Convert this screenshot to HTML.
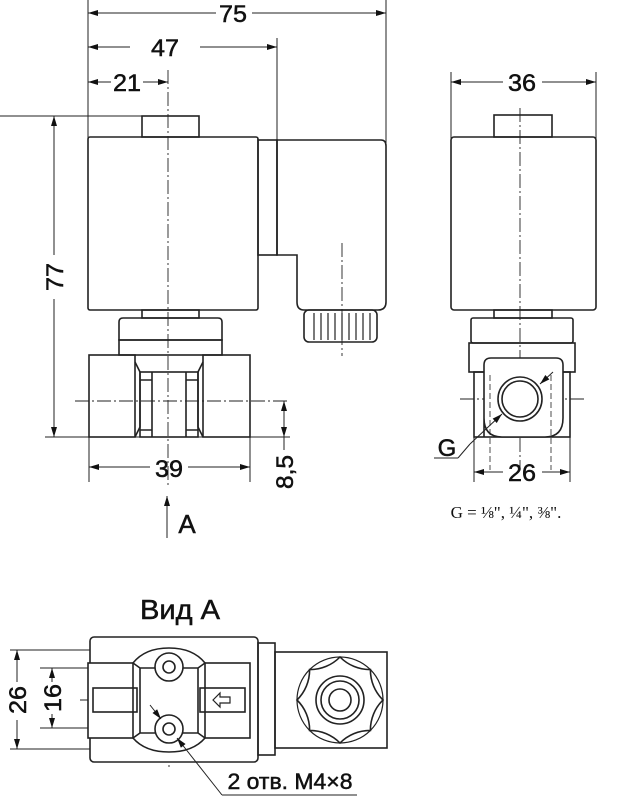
<!DOCTYPE html>
<html><head><meta charset="utf-8"><style>
html,body{margin:0;padding:0;background:#fff}
svg{display:block}
text{font-family:"Liberation Sans",sans-serif;fill:#111;stroke:#111;stroke-width:0.5}
</style></head><body>
<svg width="619" height="800" viewBox="0 0 619 800" xmlns="http://www.w3.org/2000/svg">
<defs>
<marker id="a" viewBox="0 0 10 6" refX="10" refY="3" markerWidth="11" markerHeight="6" orient="auto-start-reverse" markerUnits="userSpaceOnUse"><path d="M0,0 L10,3 L0,6z" fill="#111"/></marker>
</defs>
<g fill="none" stroke="#222" stroke-width="1">
<line x1="88" y1="0" x2="88" y2="138"/>
<line x1="386" y1="0" x2="386" y2="143"/>
<line x1="277" y1="38" x2="277" y2="140"/>
<line x1="0" y1="116" x2="142" y2="116"/>
<line x1="45" y1="437" x2="290" y2="437"/>
<line x1="89" y1="437" x2="89" y2="482"/>
<line x1="250" y1="437" x2="250" y2="482"/>
<line x1="88" y1="13" x2="216" y2="13" marker-start="url(#a)"/>
<line x1="252" y1="13" x2="386" y2="13" marker-end="url(#a)"/>
<line x1="88" y1="47" x2="130" y2="47" marker-start="url(#a)"/>
<line x1="200" y1="47" x2="277" y2="47" marker-end="url(#a)"/>
<line x1="88" y1="82" x2="111" y2="82" marker-start="url(#a)"/>
<line x1="143" y1="82" x2="168" y2="82" marker-end="url(#a)"/>
<line x1="54" y1="116" x2="54" y2="255" marker-start="url(#a)"/>
<line x1="54" y1="299" x2="54" y2="437" marker-end="url(#a)"/>
<line x1="284" y1="401" x2="284" y2="437" marker-start="url(#a)" marker-end="url(#a)"/>
<line x1="284" y1="437" x2="284" y2="450"/>
<line x1="89" y1="467" x2="150" y2="467" marker-start="url(#a)"/>
<line x1="188" y1="467" x2="250" y2="467" marker-end="url(#a)"/>
<line x1="167" y1="538" x2="167" y2="496" marker-end="url(#a)"/>
<g stroke-width="1.6">
<rect x="142" y="116" width="57" height="21"/>
<rect x="88" y="137" width="170" height="173" rx="2"/>
<rect x="258" y="140" width="19" height="115"/>
<path d="M277,140 L381,140 Q386,140 386,146 L386,302 Q386,310 378,310 L304,310 Q297,310 297,302 L297,255 L277,255 Z"/>
<rect x="304" y="310" width="73" height="32" rx="5"/>
<rect x="142" y="310" width="57" height="8"/>
<path d="M119,340 L119,322 Q119,318 123,318 L218,318 Q222,318 222,322 L222,340 Z"/>
<rect x="119" y="340" width="103" height="15"/>
<rect x="89" y="355" width="46" height="82"/>
<rect x="203" y="355" width="47" height="82"/>
<path d="M135,362 L140,372 L140,427 L135,437 M203,362 L198,372 L198,427 L203,437"/>
<rect x="140" y="372" width="58" height="65"/>
<path d="M152,372 V437 M186,372 V437 M140,380 H152 M186,380 H198 M140,430 H152 M186,430 H198"/>
</g>
<path d="M314,313 V340 M321,313 V340 M328,313 V340 M335,313 V340 M342,313 V340 M349,313 V340 M356,313 V340 M363,313 V340 M370,313 V340" stroke-width="1.2"/>
<g stroke-dasharray="14,3,2,3" stroke-width="0.9">
<line x1="168" y1="70" x2="168" y2="485"/>
<line x1="342" y1="243" x2="342" y2="356"/>
<line x1="75" y1="401" x2="290" y2="401"/>
<line x1="520" y1="108" x2="520" y2="470"/>
<line x1="460" y1="399" x2="585" y2="399"/>
<line x1="169" y1="638" x2="169" y2="767"/>
<line x1="80" y1="700" x2="258" y2="700"/>
</g>
<line x1="451" y1="72" x2="451" y2="140"/>
<line x1="596" y1="72" x2="596" y2="140"/>
<line x1="451" y1="82" x2="503" y2="82" marker-start="url(#a)"/>
<line x1="542" y1="82" x2="596" y2="82" marker-end="url(#a)"/>
<line x1="474" y1="437" x2="474" y2="482"/>
<line x1="570" y1="437" x2="570" y2="482"/>
<line x1="474" y1="472" x2="503" y2="472" marker-start="url(#a)"/>
<line x1="542" y1="472" x2="570" y2="472" marker-end="url(#a)"/>
<g stroke-width="1.6">
<rect x="494" y="115" width="58" height="22"/>
<rect x="451" y="137" width="145" height="173" rx="3"/>
<rect x="494" y="310" width="58" height="8"/>
<rect x="471" y="318" width="102" height="25" rx="2"/>
<rect x="469" y="343" width="106" height="29"/>
<rect x="474" y="372" width="96" height="65"/>
<path d="M484,437 L484,365 Q484,358 491,358 L556,358 Q563,358 563,365 L563,418 Q563,437 545,437 L502,437 Q484,437 484,418 Z" fill="#fff"/>
<circle cx="520" cy="399" r="22"/>
<circle cx="520" cy="399" r="18"/>
</g>
<path d="M490,375 V470 M551,375 V470" stroke-dasharray="6,3" stroke-width="0.8"/>
<line x1="553" y1="372" x2="540" y2="384" marker-end="url(#a)"/>
<line x1="470" y1="444" x2="502" y2="414" marker-end="url(#a)"/>
<line x1="434" y1="458" x2="458" y2="458"/>
<line x1="458" y1="458" x2="470" y2="444"/>
<line x1="10" y1="650" x2="165" y2="650"/>
<line x1="10" y1="749" x2="165" y2="749"/>
<line x1="40" y1="668" x2="165" y2="668"/>
<line x1="40" y1="728" x2="165" y2="728"/>
<line x1="17" y1="650" x2="17" y2="682" marker-start="url(#a)"/>
<line x1="17" y1="720" x2="17" y2="749" marker-end="url(#a)"/>
<line x1="52" y1="668" x2="52" y2="682" marker-start="url(#a)"/>
<line x1="52" y1="714" x2="52" y2="728" marker-end="url(#a)"/>
<g stroke-width="1.6">
<rect x="90" y="637" width="168" height="125" rx="4" fill="#fff"/>
<rect x="258" y="643" width="17" height="112"/>
<rect x="275" y="652" width="112" height="96"/>
<rect x="88" y="663" width="162" height="75" fill="#fff"/>
<path d="M133,738 V663 Q145,648 169,648 Q193,648 205,663 V738 Q193,752 169,752 Q145,752 133,738 Z" fill="#fff"/>
<path d="M140,668 V733 M198,668 V733 M133,663 L140,668 M205,663 L198,668 M133,738 L140,733 M205,738 L198,733 M140,668 H198 M140,733 H198"/>
<circle cx="169" cy="667" r="14" fill="#fff"/><circle cx="169" cy="667" r="6"/>
<circle cx="169" cy="729" r="14" fill="#fff"/><circle cx="169" cy="729" r="6"/>
<rect x="93" y="688" width="44" height="24"/>
<rect x="200" y="688" width="45" height="24"/>
<path d="M213,700 L220,693 V697 H230 V703 H220 V707 Z" stroke-width="1.2"/>
<circle cx="340" cy="700" r="43" stroke-width="1.2"/>
<path d="M340,657 A42,42 0 0 0 370.4,669.6 A42,42 0 0 0 383,700 A42,42 0 0 0 370.4,730.4 A42,42 0 0 0 340,743 A42,42 0 0 0 309.6,730.4 A42,42 0 0 0 297,700 A42,42 0 0 0 309.6,669.6 A42,42 0 0 0 340,657 Z"/>
<circle cx="340" cy="700" r="24"/>
<circle cx="340" cy="700" r="19"/>
<circle cx="340" cy="700" r="11"/>
</g>
<line x1="150" y1="705" x2="161" y2="719" marker-end="url(#a)"/>
<line x1="222" y1="795" x2="177" y2="738" marker-end="url(#a)"/>
<line x1="222" y1="795" x2="357" y2="795"/>
</g>
<text x="233" y="22" font-size="24" text-anchor="middle" textLength="28" lengthAdjust="spacingAndGlyphs">75</text>
<text x="165" y="56" font-size="24" text-anchor="middle" textLength="28" lengthAdjust="spacingAndGlyphs">47</text>
<text x="127" y="91" font-size="24" text-anchor="middle" textLength="28" lengthAdjust="spacingAndGlyphs">21</text>
<text x="169" y="477" font-size="24" text-anchor="middle" textLength="28" lengthAdjust="spacingAndGlyphs">39</text>
<text x="522" y="91" font-size="24" text-anchor="middle" textLength="28" lengthAdjust="spacingAndGlyphs">36</text>
<text x="522" y="481" font-size="24" text-anchor="middle" textLength="28" lengthAdjust="spacingAndGlyphs">26</text>
<text transform="translate(63,277) rotate(-90)" font-size="24" text-anchor="middle" textLength="28" lengthAdjust="spacingAndGlyphs">77</text>
<text transform="translate(293,472) rotate(-90)" font-size="24" text-anchor="middle" textLength="34" lengthAdjust="spacingAndGlyphs">8,5</text>
<text x="187" y="533" font-size="26" text-anchor="middle">A</text>
<text x="447" y="456" font-size="24" text-anchor="middle">G</text>
<text x="506" y="518" font-size="17" text-anchor="middle" style="font-family:'Liberation Serif',serif;stroke-width:0">G = ⅛", ¼", ⅜".</text>
<text x="180" y="619" font-size="28" text-anchor="middle" textLength="80" lengthAdjust="spacingAndGlyphs">Вид А</text>
<text transform="translate(26,700) rotate(-90)" font-size="24" text-anchor="middle" textLength="28" lengthAdjust="spacingAndGlyphs">26</text>
<text transform="translate(61,698) rotate(-90)" font-size="24" text-anchor="middle" textLength="28" lengthAdjust="spacingAndGlyphs">16</text>
<text x="290" y="789" font-size="22" text-anchor="middle" textLength="125" lengthAdjust="spacingAndGlyphs">2 отв. М4×8</text>
</svg>
</body></html>
